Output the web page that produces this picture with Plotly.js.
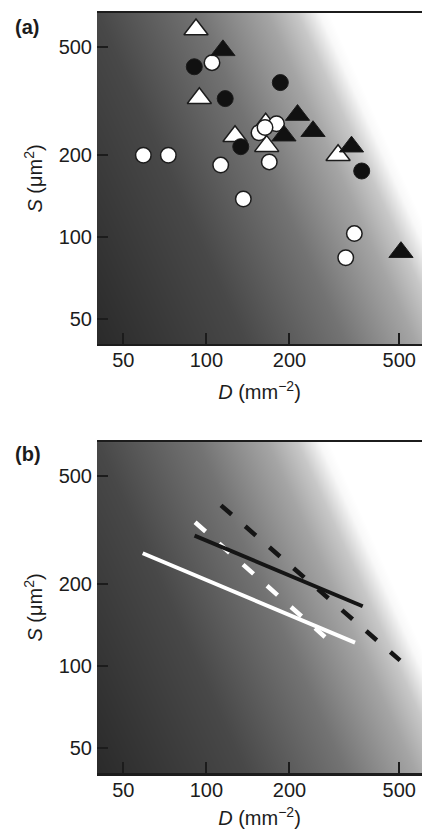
<!DOCTYPE html>
<html><head><meta charset="utf-8">
<script src="https://cdn.plot.ly/plotly-3.0.1.min.js"></script>
<style>html,body{margin:0;padding:0;background:#fff}#chart{width:422px;height:829px}</style>
</head><body><div id="chart"></div>
<script>
// ---- Panel (a): stomatal density D (mm^-2) vs stomatal size S (µm^2) ----
const openCircleD    = [104.8, 59.1, 72.8, 112.7, 179.5, 155.1, 163.1, 169, 136.1, 343.6, 319.8];
const openCircleS    = [438, 200, 200, 184, 261, 242, 253, 189, 138, 103, 84];
const filledCircleD  = [90.4, 117, 185.3, 133.2, 365.4];
const filledCircleS  = [423, 323, 370, 215, 175];
const openTriangleD  = [91.7, 94.3, 127, 164, 165.4, 300];
const openTriangleS  = [580, 324, 235, 261, 216, 200];
const filledTriangleD = [114.8, 213.9, 243.4, 191, 335.6, 507];
const filledTriangleS = [486, 281, 245, 236, 215, 88];

// ---- Panel (b): fitted lines (end points) ----
const whiteSolidD = [58.8, 345.6];
const whiteSolidS = [260, 122];
const whiteDashD  = [91, 269];
const whiteDashS  = [338, 128];
const blackSolidD = [90.6, 368.5];
const blackSolidS = [302, 166];
const blackDashD  = [113, 503];
const blackDashS  = [390, 105];

// ---- Axis ticks ----
const tickVals = [50, 100, 200, 500];
const tickText = ['50', '100', '200', '500'];

// ---- background shading (decorative) ----
function shadeImage(w, h) {
  const c = document.createElement('canvas');
  c.width = w; c.height = h;
  const ctx = c.getContext('2d');
  const img = ctx.createImageData(w, h);
  const stops = [[-200, 40], [-150, 42], [0, 72], [100, 115], [170, 165], [200, 200], [222, 248], [232, 255], [1000, 255]];
  function g(s) {
    for (let i = 1; i < stops.length; i++) {
      if (s <= stops[i][0]) {
        const [s0, v0] = stops[i - 1], [s1, v1] = stops[i];
        const t = Math.max(0, Math.min(1, (s - s0) / (s1 - s0)));
        return v0 + (v1 - v0) * t;
      }
    }
    return 255;
  }
  for (let y = 0; y < h; y++) {
    for (let x = 0; x < w; x++) {
      const v = Math.round(g(x - 0.45 * y));
      const k = (y * w + x) * 4;
      img.data[k] = v; img.data[k + 1] = v; img.data[k + 2] = v; img.data[k + 3] = 255;
    }
  }
  ctx.putImageData(img, 0, 0);
  return c.toDataURL('image/png');
}
const bg = shadeImage(325, 331);

const dark = '#1c1c1c';
const traces = [
  {x: openTriangleD, y: openTriangleS, xaxis: 'x', yaxis: 'y', mode: 'markers', type: 'scatter',
   marker: {symbol: 'triangle-up', size: 21, color: '#ffffff', line: {color: dark, width: 1.5}}},
  {x: filledCircleD, y: filledCircleS, xaxis: 'x', yaxis: 'y', mode: 'markers', type: 'scatter',
   marker: {symbol: 'circle', size: 16, color: '#111111', line: {color: dark, width: 1}}},
  {x: openCircleD, y: openCircleS, xaxis: 'x', yaxis: 'y', mode: 'markers', type: 'scatter',
   marker: {symbol: 'circle', size: 15.5, color: '#ffffff', line: {color: dark, width: 1.5}}},
  {x: filledTriangleD, y: filledTriangleS, xaxis: 'x', yaxis: 'y', mode: 'markers', type: 'scatter',
   marker: {symbol: 'triangle-up', size: 21, color: '#111111', line: {color: dark, width: 1}}},

  {x: whiteSolidD, y: whiteSolidS, xaxis: 'x2', yaxis: 'y2', mode: 'lines', type: 'scatter',
   line: {color: '#ffffff', width: 4}},
  {x: whiteDashD, y: whiteDashS, xaxis: 'x2', yaxis: 'y2', mode: 'lines', type: 'scatter',
   line: {color: '#ffffff', width: 4.5, dash: '14px,18px'}},
  {x: blackSolidD, y: blackSolidS, xaxis: 'x2', yaxis: 'y2', mode: 'lines', type: 'scatter',
   line: {color: '#151515', width: 4}},
  {x: blackDashD, y: blackDashS, xaxis: 'x2', yaxis: 'y2', mode: 'lines', type: 'scatter',
   line: {color: '#151515', width: 4.5, dash: '14px,18px'}}
];

function xAxis(anchor, standoff) {
  return {
    type: 'log', range: [1.6037, 2.7812], anchor: anchor,
    tickvals: tickVals, ticktext: tickText,
    ticks: 'inside', ticklen: 11, tickwidth: 2, tickcolor: dark,
    showline: true, linecolor: dark, linewidth: 2.5, mirror: true,
    showgrid: false, zeroline: false, fixedrange: true,
    tickfont: {size: 20, color: dark}, ticklabelstandoff: -3,
    title: {text: '<i>D</i> (mm<sup>\u22122</sup>)', font: {size: 20, color: dark}, standoff: standoff}
  };
}
function yAxis(anchor, domain) {
  return {
    type: 'log', range: [1.607, 2.824], anchor: anchor, domain: domain,
    tickvals: tickVals, ticktext: tickText,
    ticks: 'inside', ticklen: 11, tickwidth: 2, tickcolor: dark,
    showline: false, showgrid: false, zeroline: false, fixedrange: true,
    tickfont: {size: 20, color: dark}, ticklabelstandoff: 4,
    title: {text: '<i>S</i> (\u03bcm<sup>2</sup>)', font: {size: 20, color: dark}, standoff: 10}
  };
}

const layout = {
  width: 422, height: 829,
  margin: {l: 97, r: 0, t: 13, b: 56},
  paper_bgcolor: '#ffffff', plot_bgcolor: 'rgba(0,0,0,0)',
  showlegend: false,
  font: {family: 'Liberation Sans, Arial, sans-serif', size: 20, color: dark},
  xaxis: xAxis('y', 15),
  yaxis: yAxis('x', [0.5645, 1]),
  xaxis2: xAxis('y2', 15),
  yaxis2: yAxis('x2', [0, 0.4355]),
  images: [
    {source: bg, xref: 'x domain', yref: 'y domain', x: 0, y: 1, sizex: 1, sizey: 1,
     xanchor: 'left', yanchor: 'top', sizing: 'stretch', layer: 'below'},
    {source: bg, xref: 'x2 domain', yref: 'y2 domain', x: 0, y: 1, sizex: 1, sizey: 1,
     xanchor: 'left', yanchor: 'top', sizing: 'stretch', layer: 'below'}
  ],
  annotations: [
    {text: '<b>(a)</b>', xref: 'paper', yref: 'paper', x: -0.2585, y: 0.9822,
     xanchor: 'left', yanchor: 'middle', showarrow: false, font: {size: 20, color: dark}},
    {text: '<b>(b)</b>', xref: 'paper', yref: 'paper', x: -0.2585, y: 0.4197,
     xanchor: 'left', yanchor: 'middle', showarrow: false, font: {size: 20, color: dark}}
  ]
};

Plotly.newPlot('chart', traces, layout, {staticPlot: true, displayModeBar: false});
</script>
</body></html>
